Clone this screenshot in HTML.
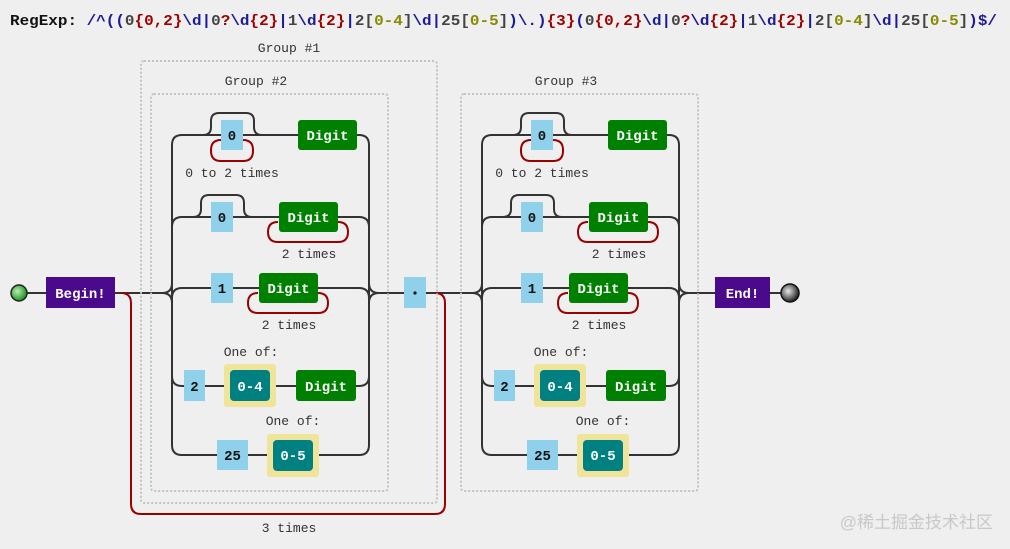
<!DOCTYPE html>
<html><head><meta charset="utf-8"><style>
html,body{margin:0;padding:0;background:#efefef;width:1010px;height:549px;overflow:hidden}
svg{display:block}
.t{font-family:"Liberation Mono",monospace;font-size:13px;fill:#333}
.b{font-family:"Liberation Mono",monospace;font-size:14px;font-weight:bold}
.w{fill:#fff}
.k{fill:#111}
.l{fill:none;stroke:#333;stroke-width:2}
.r{fill:none;stroke:#9b0000;stroke-width:2}
.d{fill:none;stroke:#c4c4c4;stroke-width:2;stroke-dasharray:2 2}
.lit{fill:#8fd0ea}
.dig{fill:#008000}
.rng{fill:#008080}
.hl{fill:#f0e49a}
</style></head><body>
<svg width="1010" height="549" viewBox="0 0 1010 549" xmlns="http://www.w3.org/2000/svg">
<defs>
<radialGradient id="gs" cx="40%" cy="40%" r="60%"><stop offset="0" stop-color="#b8f0b0"/><stop offset="1" stop-color="#1f8f1f"/></radialGradient>
<radialGradient id="ge" cx="40%" cy="40%" r="60%"><stop offset="0" stop-color="#e8e8e8"/><stop offset="1" stop-color="#222"/></radialGradient>
</defs>
<text x="10" y="25" textLength="987" lengthAdjust="spacingAndGlyphs" style="font-family:'Liberation Mono',monospace;font-size:15px;font-weight:bold" fill="#1a1a9a"><tspan fill="#111">RegExp: </tspan>/^((<tspan fill="#444">0</tspan><tspan fill="#a00000">{0,2}</tspan>\d|<tspan fill="#444">0</tspan><tspan fill="#a00000">?</tspan>\d<tspan fill="#a00000">{2}</tspan>|<tspan fill="#444">1</tspan>\d<tspan fill="#a00000">{2}</tspan>|<tspan fill="#444">2[</tspan><tspan fill="#8a8a00">0-4</tspan><tspan fill="#444">]</tspan>\d|<tspan fill="#444">25[</tspan><tspan fill="#8a8a00">0-5</tspan><tspan fill="#444">]</tspan>)\.)<tspan fill="#a00000">{3}</tspan>(<tspan fill="#444">0</tspan><tspan fill="#a00000">{0,2}</tspan>\d|<tspan fill="#444">0</tspan><tspan fill="#a00000">?</tspan>\d<tspan fill="#a00000">{2}</tspan>|<tspan fill="#444">1</tspan>\d<tspan fill="#a00000">{2}</tspan>|<tspan fill="#444">2[</tspan><tspan fill="#8a8a00">0-4</tspan><tspan fill="#444">]</tspan>\d|<tspan fill="#444">25[</tspan><tspan fill="#8a8a00">0-5</tspan><tspan fill="#444">]</tspan>)$/</text>

<!-- main line pieces -->
<path class="l" d="M27 293H46 M115 293H162 M379 293H472 M689 293H715 M770 293H782"/>
<circle cx="19" cy="293" r="8" fill="url(#gs)" stroke="#222" stroke-width="1.5"/>
<circle cx="790" cy="293" r="9" fill="url(#ge)" stroke="#111" stroke-width="1.5"/>
<rect x="46" y="277" width="69" height="31" fill="#4b0a8c"/>
<text x="80.5" y="298" text-anchor="middle" class="b w">Begin!</text>
<rect x="715" y="277" width="55" height="31" fill="#4b0a8c"/>
<text x="742.5" y="298" text-anchor="middle" class="b w">End!</text>

<!-- repeat loop 3 times -->
<path class="r" d="M121 293q10 0 10 10V504q0 10 10 10H435q10 0 10 -10V303q0 -10 -10 -10"/>
<text x="289" y="532" text-anchor="middle" class="t">3 times</text>
<rect x="141" y="61" width="296" height="442" rx="3" class="d"/>
<text x="289" y="52" text-anchor="middle" class="t">Group #1</text>

<!-- dot -->
<rect x="404" y="277" width="22" height="31" class="lit"/>
<circle cx="415" cy="293" r="1.6" fill="#111"/>

<g id="g2">
<rect x="151" y="94" width="237" height="397" rx="3" class="d"/>
<text x="256" y="85" text-anchor="middle" class="t">Group #2</text>
<!-- fork -->
<path class="l" d="M162 293q10 0 10 -10 M162 293q10 0 10 10 M172 145V445 M172 145q0 -10 10 -10 M172 445q0 10 10 10 M172 227q0 -10 10 -10 M172 298q0 -10 10 -10 M172 376q0 10 10 10"/>
<path class="l" d="M379 293q-10 0 -10 -10 M379 293q-10 0 -10 10 M369 145V445 M369 145q0 -10 -10 -10 M369 445q0 10 -10 10 M369 227q0 -10 -10 -10 M369 298q0 -10 -10 -10 M369 376q0 10 -10 10"/>
<!-- branch 1 -->
<path class="l" d="M182 135H359"/>
<path class="l" d="M203 135q8 0 8 -8V121q0 -8 8 -8H246q8 0 8 8v6q0 8 8 8"/>
<path class="r" d="M243 140q10 0 10 10v1q0 10 -10 10H221q-10 0 -10 -10v-1q0 -10 10 -10"/>
<rect x="221" y="120" width="22" height="30" class="lit"/>
<text x="232" y="140" text-anchor="middle" class="b k">0</text>
<rect x="298" y="120" width="59" height="30" rx="3" class="dig"/>
<text x="327.5" y="140" text-anchor="middle" class="b w">Digit</text>
<text x="232" y="177" text-anchor="middle" class="t">0 to 2 times</text>
<!-- branch 2 -->
<path class="l" d="M182 217H359"/>
<path class="l" d="M193 217q8 0 8 -8V203q0 -8 8 -8H236q8 0 8 8v6q0 8 8 8"/>
<rect x="211" y="202" width="22" height="30" class="lit"/>
<text x="222" y="222" text-anchor="middle" class="b k">0</text>
<path class="r" d="M338 222q10 0 10 10v0q0 10 -10 10H278q-10 0 -10 -10v0q0 -10 10 -10"/>
<rect x="279" y="202" width="59" height="30" rx="3" class="dig"/>
<text x="308.5" y="222" text-anchor="middle" class="b w">Digit</text>
<text x="309" y="258" text-anchor="middle" class="t">2 times</text>
<!-- branch 3 -->
<path class="l" d="M182 288H359"/>
<rect x="211" y="273" width="22" height="30" class="lit"/>
<text x="222" y="293" text-anchor="middle" class="b k">1</text>
<path class="r" d="M318 293q10 0 10 10v0q0 10 -10 10H258q-10 0 -10 -10v0q0 -10 10 -10"/>
<rect x="259" y="273" width="59" height="30" rx="3" class="dig"/>
<text x="288.5" y="293" text-anchor="middle" class="b w">Digit</text>
<text x="289" y="329" text-anchor="middle" class="t">2 times</text>
<!-- branch 4 -->
<path class="l" d="M182 386H359"/>
<text x="251" y="356" text-anchor="middle" class="t">One of:</text>
<rect x="184" y="370" width="21" height="31" class="lit"/>
<text x="194.5" y="391" text-anchor="middle" class="b k">2</text>
<rect x="224" y="364" width="52" height="43" rx="3" class="hl"/>
<rect x="230" y="370" width="40" height="31" rx="4" class="rng"/>
<text x="250" y="391" text-anchor="middle" class="b w">0-4</text>
<rect x="296" y="370" width="60" height="31" rx="3" class="dig"/>
<text x="326" y="391" text-anchor="middle" class="b w">Digit</text>
<!-- branch 5 -->
<path class="l" d="M182 455H359"/>
<text x="293" y="425" text-anchor="middle" class="t">One of:</text>
<rect x="217" y="440" width="31" height="30" class="lit"/>
<text x="232.5" y="460" text-anchor="middle" class="b k">25</text>
<rect x="267" y="434" width="52" height="43" rx="3" class="hl"/>
<rect x="273" y="440" width="40" height="31" rx="4" class="rng"/>
<text x="293" y="460" text-anchor="middle" class="b w">0-5</text>
</g>

<g transform="translate(310,0)">
<rect x="151" y="94" width="237" height="397" rx="3" class="d"/>
<text x="256" y="85" text-anchor="middle" class="t">Group #3</text>
<path class="l" d="M162 293q10 0 10 -10 M162 293q10 0 10 10 M172 145V445 M172 145q0 -10 10 -10 M172 445q0 10 10 10 M172 227q0 -10 10 -10 M172 298q0 -10 10 -10 M172 376q0 10 10 10"/>
<path class="l" d="M379 293q-10 0 -10 -10 M379 293q-10 0 -10 10 M369 145V445 M369 145q0 -10 -10 -10 M369 445q0 10 -10 10 M369 227q0 -10 -10 -10 M369 298q0 -10 -10 -10 M369 376q0 10 -10 10"/>
<path class="l" d="M182 135H359"/>
<path class="l" d="M203 135q8 0 8 -8V121q0 -8 8 -8H246q8 0 8 8v6q0 8 8 8"/>
<path class="r" d="M243 140q10 0 10 10v1q0 10 -10 10H221q-10 0 -10 -10v-1q0 -10 10 -10"/>
<rect x="221" y="120" width="22" height="30" class="lit"/>
<text x="232" y="140" text-anchor="middle" class="b k">0</text>
<rect x="298" y="120" width="59" height="30" rx="3" class="dig"/>
<text x="327.5" y="140" text-anchor="middle" class="b w">Digit</text>
<text x="232" y="177" text-anchor="middle" class="t">0 to 2 times</text>
<path class="l" d="M182 217H359"/>
<path class="l" d="M193 217q8 0 8 -8V203q0 -8 8 -8H236q8 0 8 8v6q0 8 8 8"/>
<rect x="211" y="202" width="22" height="30" class="lit"/>
<text x="222" y="222" text-anchor="middle" class="b k">0</text>
<path class="r" d="M338 222q10 0 10 10v0q0 10 -10 10H278q-10 0 -10 -10v0q0 -10 10 -10"/>
<rect x="279" y="202" width="59" height="30" rx="3" class="dig"/>
<text x="308.5" y="222" text-anchor="middle" class="b w">Digit</text>
<text x="309" y="258" text-anchor="middle" class="t">2 times</text>
<path class="l" d="M182 288H359"/>
<rect x="211" y="273" width="22" height="30" class="lit"/>
<text x="222" y="293" text-anchor="middle" class="b k">1</text>
<path class="r" d="M318 293q10 0 10 10v0q0 10 -10 10H258q-10 0 -10 -10v0q0 -10 10 -10"/>
<rect x="259" y="273" width="59" height="30" rx="3" class="dig"/>
<text x="288.5" y="293" text-anchor="middle" class="b w">Digit</text>
<text x="289" y="329" text-anchor="middle" class="t">2 times</text>
<path class="l" d="M182 386H359"/>
<text x="251" y="356" text-anchor="middle" class="t">One of:</text>
<rect x="184" y="370" width="21" height="31" class="lit"/>
<text x="194.5" y="391" text-anchor="middle" class="b k">2</text>
<rect x="224" y="364" width="52" height="43" rx="3" class="hl"/>
<rect x="230" y="370" width="40" height="31" rx="4" class="rng"/>
<text x="250" y="391" text-anchor="middle" class="b w">0-4</text>
<rect x="296" y="370" width="60" height="31" rx="3" class="dig"/>
<text x="326" y="391" text-anchor="middle" class="b w">Digit</text>
<path class="l" d="M182 455H359"/>
<text x="293" y="425" text-anchor="middle" class="t">One of:</text>
<rect x="217" y="440" width="31" height="30" class="lit"/>
<text x="232.5" y="460" text-anchor="middle" class="b k">25</text>
<rect x="267" y="434" width="52" height="43" rx="3" class="hl"/>
<rect x="273" y="440" width="40" height="31" rx="4" class="rng"/>
<text x="293" y="460" text-anchor="middle" class="b w">0-5</text>
</g>

<text x="993" y="528" text-anchor="end" style="font-family:'Liberation Sans','Noto Sans CJK SC',sans-serif;font-size:17px" fill="#c8c8c8">@稀土掘金技术社区</text>
</svg>
</body></html>
